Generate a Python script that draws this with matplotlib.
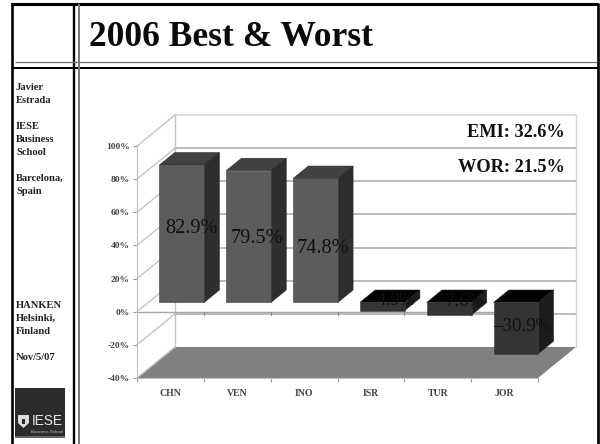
import matplotlib
matplotlib.use("Agg")
import matplotlib.pyplot as plt
from matplotlib.patches import Polygon, Rectangle

plt.rcParams['font.family'] = ['Liberation Serif', 'DejaVu Serif']

categories = ['CHN', 'VEN', 'INO', 'ISR', 'TUR', 'JOR']
values = [82.9, 79.5, 74.8, -4.9, -7.6, -30.9]
value_labels = ['82.9%', '79.5%', '74.8%', '\u20134.9%', '\u20137.6%', '\u201330.9%']
y_ticks = [-40, -20, 0, 20, 40, 60, 80, 100]
side_lines = ['Javier', 'Estrada', '', 'IESE', 'Business', 'School', '', 'Barcelona,', 'Spain']
side_lines2 = ['HANKEN', 'Helsinki,', 'Finland', '', 'Nov/5/07']
title = '2006 Best & Worst'
notes = ['EMI: 32.6%', 'WOR: 21.5%']

W, H = 600, 444
fig = plt.figure(figsize=(6, 4.44), dpi=100)
bg = fig.add_axes([0, 0, 1, 1])
bg.set_xlim(0, W)
bg.set_ylim(H, 0)
bg.axis('off')

# slide frame
bg.plot([12, 12], [3, H], color='black', lw=1.9, solid_capstyle='butt')
bg.plot([11, 598], [4.5, 4.5], color='black', lw=2.2, solid_capstyle='butt')
bg.plot([597.5, 597.5], [3, H], color='black', lw=1.9, solid_capstyle='butt')
bg.plot([74, 74], [3, H], color='black', lw=1.7, solid_capstyle='butt')
bg.plot([13, 598], [67.7, 67.7], color='black', lw=1.4, solid_capstyle='butt')
bg.plot([79, 79], [4, H], color='#777777', lw=1.4, solid_capstyle='butt')
bg.plot([15, 597], [62.5, 62.5], color='#777777', lw=1.0, solid_capstyle='butt')

bg.text(89, 38, title, fontsize=25.5, fontweight='bold', va='center', ha='left', color='#0a0a0a')

y = 87
for s in side_lines:
    bg.text(16, y, s, fontsize=7.6, fontweight='bold', color='#222222', va='center')
    y += 13
y = 305
for s in side_lines2:
    bg.text(16, y, s, fontsize=7.6, fontweight='bold', color='#222222', va='center')
    y += 13

# logo
bg.add_patch(Rectangle((15, 388), 50, 50, color='#2b2b2b', lw=0))
bg.add_patch(Rectangle((15, 436), 50, 2, color='#666666', lw=0))
bg.add_patch(Polygon([(18, 415), (29, 415), (29, 423), (23.5, 428), (18, 423)], closed=True, color='#dddddd', lw=0))
bg.add_patch(Rectangle((22, 419), 3, 5, color='#2b2b2b', lw=0))
bg.text(32, 421, 'IESE', color='#e8e8e8', fontsize=9.8, family='Liberation Sans', va='center')
bg.text(47, 431.5, 'Business School', color='#bbbbbb', fontsize=3.2, family='Liberation Sans', ha='center', va='center')

# chart axes = front plane of the 3D box
left, right, top, bottom = 137, 538, 146, 378
ax = fig.add_axes([left / W, 1 - bottom / H, (right - left) / W, (bottom - top) / H])
ax.set_xlim(0, 6)
ax.set_ylim(-40, 100)
ax.patch.set_visible(False)

ppx = (right - left) / 6
ppy = (bottom - top) / 140
DX = 38 / ppx
DY = 31 / ppy

def proj(x, y, d):
    return (x + d * DX, y + d * DY)

grid_c = '#a8a8a8'
# walls
for t in y_ticks:
    ax.plot([proj(0, t, 0)[0], proj(0, t, 1)[0]], [proj(0, t, 0)[1], proj(0, t, 1)[1]],
            color='#c4c4c4', lw=1, clip_on=False)
    if t > -40:
        ax.plot([proj(0, t, 1)[0], proj(6, t, 1)[0]], [proj(0, t, 1)[1], proj(6, t, 1)[1]],
                color=grid_c if t != 100 else '#d4d4d4', lw=1.1, clip_on=False)
ax.plot([proj(0, -40, 1)[0]] * 2, [proj(0, -40, 1)[1], proj(0, 100, 1)[1]], color='#c4c4c4', lw=1, clip_on=False)
ax.plot([proj(6, -40, 1)[0]] * 2, [proj(6, -40, 1)[1], proj(6, 100, 1)[1]], color='#d4d4d4', lw=1, clip_on=False)

# floor
ax.add_patch(Polygon([proj(0, -40, 0), proj(6, -40, 0), proj(6, -40, 1), proj(0, -40, 1)],
                     closed=True, fc='#808080', ec='none', clip_on=False))

# zero line on the front plane, with its own small ticks
ax.plot([0, 6], [0, 0], color='#a8a8a8', lw=1.0, zorder=2)
for i in range(1, 7):
    ax.plot([i, i], [0, -1.8], color='#888888', lw=0.8, zorder=2)

# bars
bw = 0.335
d0, d1 = 0.3, 0.7
for i, v in enumerate(values):
    c = i + 0.5
    x0, x1 = c - bw, c + bw
    if v > 0:
        fc, sc, tc = '#5c5c5c', '#2e2e2e', '#414141'
        y0, y1 = 0, v
    else:
        fc, sc, tc = '#343434', '#1c1c1c', '#020202'
        y0, y1 = v, 0
    ax.add_patch(Polygon([proj(x1, y0, d0), proj(x1, y0, d1), proj(x1, y1, d1), proj(x1, y1, d0)],
                         closed=True, fc=sc, ec='#262626', lw=0.4, clip_on=False, zorder=3))
    ax.add_patch(Polygon([proj(x0, y1, d0), proj(x1, y1, d0), proj(x1, y1, d1), proj(x0, y1, d1)],
                         closed=True, fc=tc, ec='#262626', lw=0.4, clip_on=False, zorder=3))
    ax.add_patch(Polygon([proj(x0, y0, d0), proj(x1, y0, d0), proj(x1, y1, d0), proj(x0, y1, d0)],
                         closed=True, fc=fc, ec='#3a3a3a', lw=0.4, clip_on=False, zorder=4))

ax.set_xticks(range(7))
ax.set_xticklabels([])
ax.set_xticks([i + 0.5 for i in range(6)], minor=True)
ax.set_xticklabels(categories, minor=True, fontsize=7, fontweight='bold', color='#444444')
ax.tick_params(axis='x', which='major', length=3, color='#999999', direction='out')
ax.tick_params(axis='x', which='minor', length=0, pad=8)
ax.set_yticks(y_ticks)
ax.set_yticklabels(['%d%%' % t if t >= 0 else '-%d%%' % -t for t in y_ticks], fontsize=6.8, fontweight='bold', color='#444444')
ax.tick_params(axis='y', length=3, color='#999999', pad=2)
for s in ['top', 'right']:
    ax.spines[s].set_visible(False)
ax.spines['left'].set_color('#c0c0c0')
ax.spines['bottom'].set_color('#c0c0c0')

# annotations over plot
bg2 = fig.add_axes([0, 0, 1, 1], facecolor='none')
bg2.set_xlim(0, W)
bg2.set_ylim(H, 0)
bg2.axis('off')
bg2.text(565, 132, notes[0], fontsize=13.2, fontweight='bold', ha='right', va='center', color='#111111')
bg2.text(565, 167, notes[1], fontsize=13.2, fontweight='bold', ha='right', va='center', color='#111111')

# value labels sit where the original chart dropped them
label_x = [191, 257, 323, 391, 460, 522]
label_y = [228, 238, 248, 300, 301, 326]
label_size = [14.6, 14.6, 14.6, 13, 13, 13.6]
for s, lx, ly, fs in zip(value_labels, label_x, label_y, label_size):
    bg2.text(lx, ly, s, fontsize=fs, ha='center', va='center', color='#101010')

fig.savefig('out.png', dpi=100)
